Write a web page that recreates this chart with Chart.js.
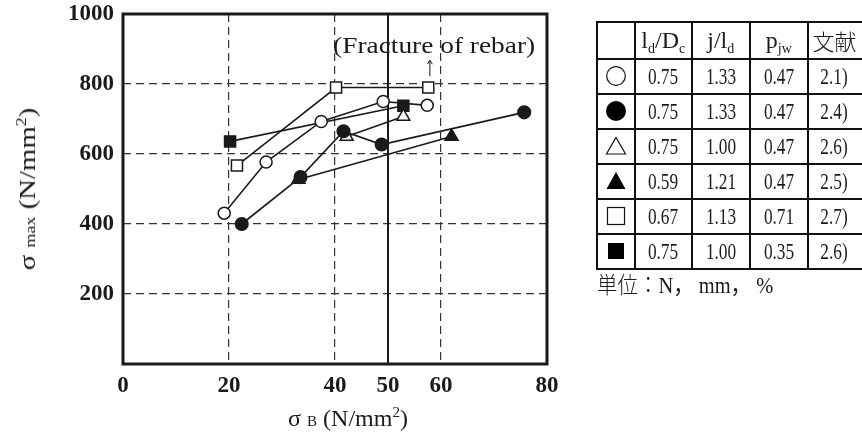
<!DOCTYPE html>
<html><head><meta charset="utf-8">
<script src="https://cdn.jsdelivr.net/npm/chart.js@4.4.1/dist/chart.umd.min.js"></script>
<style>
html,body{margin:0;padding:0;background:#fff;width:862px;height:435px;overflow:hidden;}
#wrap{position:relative;width:862px;height:435px;overflow:hidden;}
#c{position:absolute;left:0;top:0;}
.serif{font-family:"Liberation Serif","Noto Sans CJK JP",serif;color:#1a1a1a;white-space:nowrap;position:absolute;line-height:1;}
#xt{left:348px;top:418px;font-size:24px;transform:translate(-50%,-50%);}
#yt{left:27px;top:189px;font-size:24px;transform:translate(-50%,-50%) rotate(-90deg) scale(1.2,1);}
.sm{font-size:15px;}
sup{font-size:15px;vertical-align:9px;line-height:0;}
#tbl{position:absolute;left:596px;top:21px;width:276px;border-collapse:collapse;table-layout:fixed;font-family:"Liberation Serif","Noto Sans CJK JP",serif;color:#1a1a1a;}
#tbl td{border:2px solid #111;padding:0;text-align:center;vertical-align:middle;font-size:24px;height:33px;overflow:hidden;white-space:nowrap;}
#tbl td.last{padding-right:12px;}
#tbl tr.hd td{height:34.6px;}
#tbl td .cd{display:inline-block;transform:scaleX(0.72);}
#tbl sub{font-size:14px;vertical-align:-5px;line-height:0;}
.cjk{font-weight:300;font-size:22px;}
#unit{left:597px;top:274px;font-size:23px;transform:scaleX(0.89);transform-origin:0 50%;}
</style></head>
<body><div id="wrap">
<canvas id="c" width="862" height="435"></canvas>
<div id="xt" class="serif">σ <span class="sm">B</span> (N/mm<sup>2</sup>)</div>
<div id="yt" class="serif">σ <span class="sm">max</span> (N/mm<sup>2</sup>)</div>
<table id="tbl"></table>
<div id="unit" class="serif"><span class="cjk" style="font-size:23px">単位：</span>N，&nbsp;mm，&nbsp;%</div>
</div>
<script>
// ---- data ----
const xTicks = [0, 20, 40, 50, 60, 80];
const yTicks = [200, 400, 600, 800, 1000];
const seriesNames = ['open circle', 'filled circle', 'open triangle', 'filled triangle', 'open square', 'filled square'];
const openCircleX = [19.1, 27.0, 37.4, 49.1, 57.4];
const openCircleY = [431, 577, 693, 750, 739];
const filledCircleX = [22.4, 33.5, 41.6, 48.8, 75.7];
const filledCircleY = [400, 534, 665, 627, 719];
const openTriangleX = [42.2, 52.9];
const openTriangleY = [650, 707];
const filledTriangleX = [33.1, 62.0];
const filledTriangleY = [527, 650];
const openSquareX = [21.5, 40.2, 57.6];
const openSquareY = [567, 790, 790];
const filledSquareX = [20.2, 52.9];
const filledSquareY = [636, 738];
// table
const tableHeader = ['l<sub>d</sub>/D<sub>c</sub>', 'j/l<sub>d</sub>', 'p<sub>jw</sub>', '<span class="cjk">文献</span>'];
const colLdDc = ['0.75', '0.75', '0.75', '0.59', '0.67', '0.75'];
const colJLd = ['1.33', '1.33', '1.00', '1.21', '1.13', '1.00'];
const colPjw = ['0.47', '0.47', '0.47', '0.47', '0.71', '0.35'];
const colRef = ['2.1)', '2.4)', '2.6)', '2.5)', '2.7)', '2.6)'];
const annotationText = '(Fracture of rebar)';

// ---- table ----
const symbolSvg = [
  '<svg width="24" height="24"><circle cx="12" cy="12" r="9.3" fill="#fff" stroke="#111" stroke-width="1.2"/></svg>',
  '<svg width="24" height="24"><circle cx="12" cy="12" r="10" fill="#000"/></svg>',
  '<svg width="24" height="24"><polygon points="12,3.5 21.5,20 2.5,20" fill="#fff" stroke="#111" stroke-width="1.2"/></svg>',
  '<svg width="24" height="24"><polygon points="12,3 21.5,20 2.5,20" fill="#000"/></svg>',
  '<svg width="24" height="24"><rect x="3.5" y="3.5" width="17" height="17" fill="#fff" stroke="#111" stroke-width="1.2"/></svg>',
  '<svg width="24" height="24"><rect x="4" y="4" width="16" height="16" fill="#000"/></svg>'
];
const colWidths = [37.6, 57.4, 57.6, 58.4, 65];
let html = '<colgroup>' + colWidths.map(w => '<col style="width:' + w + 'px">').join('') + '</colgroup>';
html += '<tr class="hd"><td></td>' + tableHeader.map((h, j) => '<td' + (j === 3 ? ' class="last"' : '') + '>' + h + '</td>').join('') + '</tr>';
for (let i = 0; i < colLdDc.length; i++) {
  html += '<tr><td style="line-height:0">' + symbolSvg[i] + '</td>' +
    [colLdDc[i], colJLd[i], colPjw[i], colRef[i]].map((v, j) => '<td' + (j === 3 ? ' class="last"' : '') + '><span class="cd">' + v + '</span></td>').join('') + '</tr>';
}
document.getElementById('tbl').innerHTML = html;

// ---- chart ----
const INK = '#1a1a1a';
function pts(xs, ys) { return xs.map((x, i) => ({ x: x, y: ys[i] })); }
function ds(label, xs, ys, style, filled, r) {
  return {
    label: label, data: pts(xs, ys), showLine: true,
    borderColor: INK, borderWidth: 1.6,
    pointStyle: style, pointRadius: r, pointHoverRadius: r,
    pointBackgroundColor: filled ? INK : '#fff', pointBorderColor: INK, pointBorderWidth: 1.5
  };
}
const deco = {
  id: 'deco',
  beforeDatasetsDraw(chart) {
    const { ctx, chartArea: a, scales: { x } } = chart;
    const px = x.getPixelForValue(50);
    ctx.save();
    ctx.strokeStyle = INK; ctx.lineWidth = 2;
    ctx.beginPath(); ctx.moveTo(px, a.top); ctx.lineTo(px, a.bottom); ctx.stroke();
    ctx.restore();
  },
  afterDatasetsDraw(chart) {
    const { ctx, chartArea: a, scales: { x, y } } = chart;
    ctx.save();
    ctx.strokeStyle = INK; ctx.lineWidth = 3;
    ctx.strokeRect(a.left, a.top, a.right - a.left, a.bottom - a.top);
    // annotation
    const tx = x.getPixelForValue(58.7), ty = y.getPixelForValue(907);
    ctx.fillStyle = INK;
    ctx.font = '24px "Liberation Serif"';
    ctx.textAlign = 'center'; ctx.textBaseline = 'middle';
    ctx.translate(tx, ty); ctx.scale(1.14, 1);
    ctx.fillText(annotationText, 0, 0);
    ctx.restore();
    // arrow
    const ax = x.getPixelForValue(57.9), ay0 = y.getPixelForValue(822), ay1 = y.getPixelForValue(868);
    ctx.save();
    ctx.strokeStyle = INK; ctx.lineWidth = 1;
    ctx.beginPath(); ctx.moveTo(ax, ay0); ctx.lineTo(ax, ay1);
    ctx.moveTo(ax - 2.5, ay1 + 4); ctx.lineTo(ax, ay1); ctx.lineTo(ax + 2.5, ay1 + 4);
    ctx.stroke();
    ctx.restore();
  }
};
const tickFont = { family: 'Liberation Serif', size: 23, weight: 'bold' };
new Chart(document.getElementById('c'), {
  type: 'scatter',
  data: {
    datasets: [
      ds(seriesNames[0], openCircleX, openCircleY, 'circle', false, 6),
      ds(seriesNames[1], filledCircleX, filledCircleY, 'circle', true, 6.3),
      ds(seriesNames[2], openTriangleX, openTriangleY, 'triangle', false, 7.5),
      ds(seriesNames[3], filledTriangleX, filledTriangleY, 'triangle', true, 7.5),
      ds(seriesNames[4], openSquareX, openSquareY, 'rect', false, 7.8),
      ds(seriesNames[5], filledSquareX, filledSquareY, 'rect', true, 7.8)
    ]
  },
  options: {
    responsive: false, animation: false, devicePixelRatio: 1,
    layout: { padding: { left: 0, top: 14, right: 315, bottom: 0 } },
    plugins: { legend: { display: false }, tooltip: { enabled: false } },
    scales: {
      x: {
        type: 'linear', min: 0, max: 80,
        afterBuildTicks(s) { s.ticks = xTicks.map(v => ({ value: v })); },
        afterFit(s) { s.height = 71; s.paddingLeft = 0; s.paddingRight = 0; },
        grid: {
          color: c => (c.tick && (c.tick.value === 0 || c.tick.value === 80)) ? 'rgba(0,0,0,0)' : '#333',
          lineWidth: 1.2, drawTicks: false
        },
        border: { display: false, dash: [8, 5] },
        ticks: { font: tickFont, color: INK, padding: 8, maxRotation: 0, autoSkip: false }
      },
      y: {
        type: 'linear', min: 0, max: 1000,
        afterBuildTicks(s) { s.ticks = [0].concat(yTicks).map(v => ({ value: v })); },
        afterFit(s) { s.width = 123; s.paddingTop = 0; s.paddingBottom = 0; },
        grid: {
          color: c => (c.tick && (c.tick.value === 0 || c.tick.value === 1000)) ? 'rgba(0,0,0,0)' : '#333',
          lineWidth: 1.2, drawTicks: false
        },
        border: { display: false, dash: [8, 5] },
        ticks: { font: tickFont, color: INK, padding: 9, callback: v => v === 0 ? '' : String(v) }
      }
    }
  },
  plugins: [deco]
});
</script>
</body></html>
